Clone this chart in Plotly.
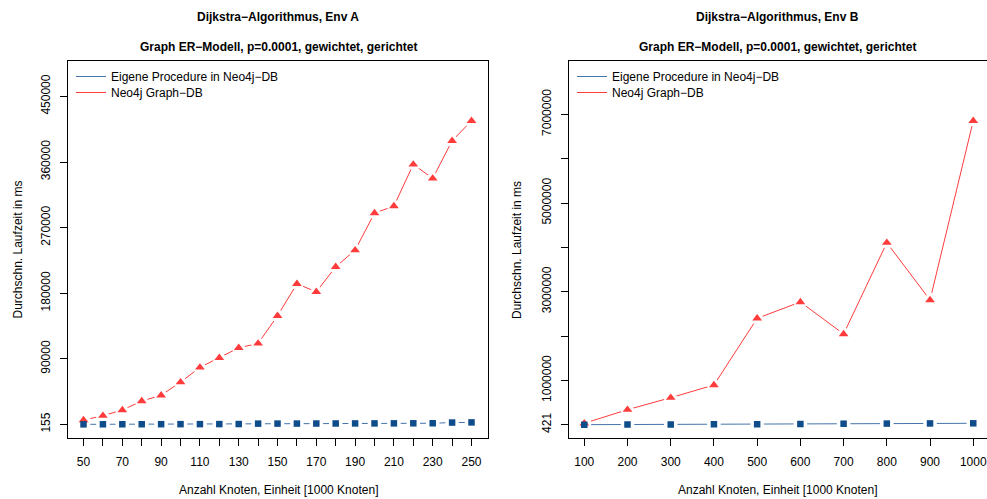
import plotly.graph_objects as go

# ---------------- data ----------------
x_a = [50, 60, 70, 80, 90, 100, 110, 120, 130, 140, 150,
       160, 170, 180, 190, 200, 210, 220, 230, 240, 250]
proc_a = [155, 200, 240, 280, 330, 380, 430, 490, 560, 1100, 1150,
          1200, 1260, 1320, 1380, 1440, 1500, 1560, 1620, 2600, 2800]
neo_a = [6000, 12000, 19800, 32000, 40000, 58000, 78200, 91400, 105100, 111100, 149000,
         192900, 181900, 216200, 239100, 289900, 299500, 356700, 337500, 389100, 416500]

x_b = [100, 200, 300, 400, 500, 600, 700, 800, 900, 1000]
proc_b = [421, 2500, 5000, 8000, 11000, 15000, 22000, 25000, 28000, 31000]
neo_b = [32000, 338000, 609000, 895000, 2399000, 2767000, 2045000, 4104000, 2812000, 6855000]

xtick_a = list(range(50, 251, 10))
xlab_a = [str(v) if (v - 50) % 20 == 0 else "" for v in xtick_a]
ytick_a = [155, 90000, 180000, 270000, 360000, 450000]
ylab_a = ["155", "90000", "180000", "270000", "360000", "450000"]

xtick_b = list(range(100, 1001, 100))
xlab_b = [str(v) for v in xtick_b]
ytick_b = [421, 1000000, 2000000, 3000000, 4000000, 5000000, 6000000, 7000000]
ylab_b = ["421", "1000000", "", "3000000", "", "5000000", "", "7000000"]

title1_a = "Dijkstra−Algorithmus, Env A"
title1_b = "Dijkstra−Algorithmus, Env B"
title2 = "Graph ER−Modell, p=0.0001, gewichtet, gerichtet"
xtitle = "Anzahl Knoten, Einheit [1000 Knoten]"
ytitle = "Durchschn. Laufzeit in ms"
name_proc = "Eigene Procedure in Neo4j−DB"
name_neo = "Neo4j Graph−DB"

# ---------------- styles ----------------
W, H = 987, 499
FONT = "Liberation Sans, Arial, Helvetica, sans-serif"
BLUE = "#0F4C8A"
BLUE_LINE = "#4474AA"
RED = "#FF3B3B"
FS = 12

fig = go.Figure()


def add_panel(x, proc, neo, xa, ya, leg_proc, leg_neo):
    fig.add_trace(go.Scatter(x=x, y=proc, mode="lines", name=name_proc,
                             line=dict(color=BLUE_LINE, width=1),
                             xaxis=xa, yaxis=ya, legend=leg_proc))
    fig.add_trace(go.Scatter(x=x, y=neo, mode="lines", name=name_neo,
                             line=dict(color=RED, width=1),
                             xaxis=xa, yaxis=ya, legend=leg_neo))
    # white halos produce the gaps of R's type="b"
    fig.add_trace(go.Scatter(x=x, y=neo, mode="markers", showlegend=False,
                             marker=dict(symbol="triangle-up", size=8.5, color="white",
                                         line=dict(color="white", width=6)),
                             xaxis=xa, yaxis=ya, hoverinfo="skip"))
    fig.add_trace(go.Scatter(x=x, y=proc, mode="markers", showlegend=False,
                             marker=dict(symbol="square", size=6.5, color="white",
                                         line=dict(color="white", width=7)),
                             xaxis=xa, yaxis=ya, hoverinfo="skip"))
    fig.add_trace(go.Scatter(x=x, y=neo, mode="markers", showlegend=False,
                             marker=dict(symbol="triangle-up", size=8.5, color=RED,
                                         line=dict(width=0)),
                             xaxis=xa, yaxis=ya, hoverinfo="skip"))
    fig.add_trace(go.Scatter(x=x, y=proc, mode="markers", showlegend=False,
                             marker=dict(symbol="square", size=6.5, color=BLUE,
                                         line=dict(width=0)),
                             xaxis=xa, yaxis=ya, hoverinfo="skip"))


add_panel(x_a, proc_a, neo_a, "x", "y", "legend", "legend2")
add_panel(x_b, proc_b, neo_b, "x2", "y2", "legend3", "legend4")

ybot = 1 - 438 / H
ytop = 1 - 61 / H

common_ax = dict(showline=True, mirror=True, linecolor="black", linewidth=1,
                 ticks="outside", ticklen=7, tickcolor="black", tickwidth=1,
                 showgrid=False, zeroline=False,
                 tickfont=dict(family=FONT, size=FS, color="black"))


def leg(px, py):
    return dict(x=px / W, y=1 - py / H, xanchor="left", yanchor="top",
                bgcolor="rgba(0,0,0,0)", borderwidth=0,
                font=dict(family=FONT, size=FS, color="black"))


fig.update_layout(
    width=W, height=H,
    margin=dict(l=0, r=0, t=0, b=0),
    paper_bgcolor="white", plot_bgcolor="white",
    font=dict(family=FONT, size=FS, color="black"),
    xaxis=dict(domain=[68 / W, 488 / W], range=[42, 258.5], anchor="y",
               tickmode="array", tickvals=xtick_a, ticktext=xlab_a,
               ticklabelstandoff=6, **common_ax),
    yaxis=dict(domain=[ybot, ytop], range=[-18600, 498545], anchor="x",
               tickmode="array", tickvals=ytick_a, ticktext=ylab_a,
               tickangle=-90, ticklabelstandoff=5, **common_ax),
    xaxis2=dict(domain=[568.5 / W, 1.0], range=[63.5, 1031.8], anchor="y2",
                tickmode="array", tickvals=xtick_b, ticktext=xlab_b,
                ticklabelstandoff=6, **common_ax),
    yaxis2=dict(domain=[ybot, ytop], range=[-300300, 8203000], anchor="x2",
                tickmode="array", tickvals=ytick_b, ticktext=ylab_b,
                tickangle=-90, ticklabelstandoff=5, **common_ax),
    legend=leg(71, 62),
    legend2=leg(71, 78),
    legend3=leg(572, 62),
    legend4=leg(572, 78),
)

ann = []
for cx, t1 in [((68 + 488) / 2, title1_a), ((568.5 + 987) / 2, title1_b)]:
    ann.append(dict(x=cx / W, y=1 - 17 / H, text="<b>%s</b>" % t1))
    ann.append(dict(x=cx / W, y=1 - 47 / H, text="<b>%s</b>" % title2))
    ann.append(dict(x=cx / W, y=1 - 490 / H, text=xtitle))
for cx in [17.5, 517]:
    ann.append(dict(x=cx / W, y=1 - 250 / H, text=ytitle, textangle=-90))
for a in ann:
    a.update(xref="paper", yref="paper", showarrow=False,
             xanchor="center", yanchor="middle",
             font=dict(family=FONT, size=FS, color="black"))
fig.update_layout(annotations=ann)

fig.write_html("out.html")
